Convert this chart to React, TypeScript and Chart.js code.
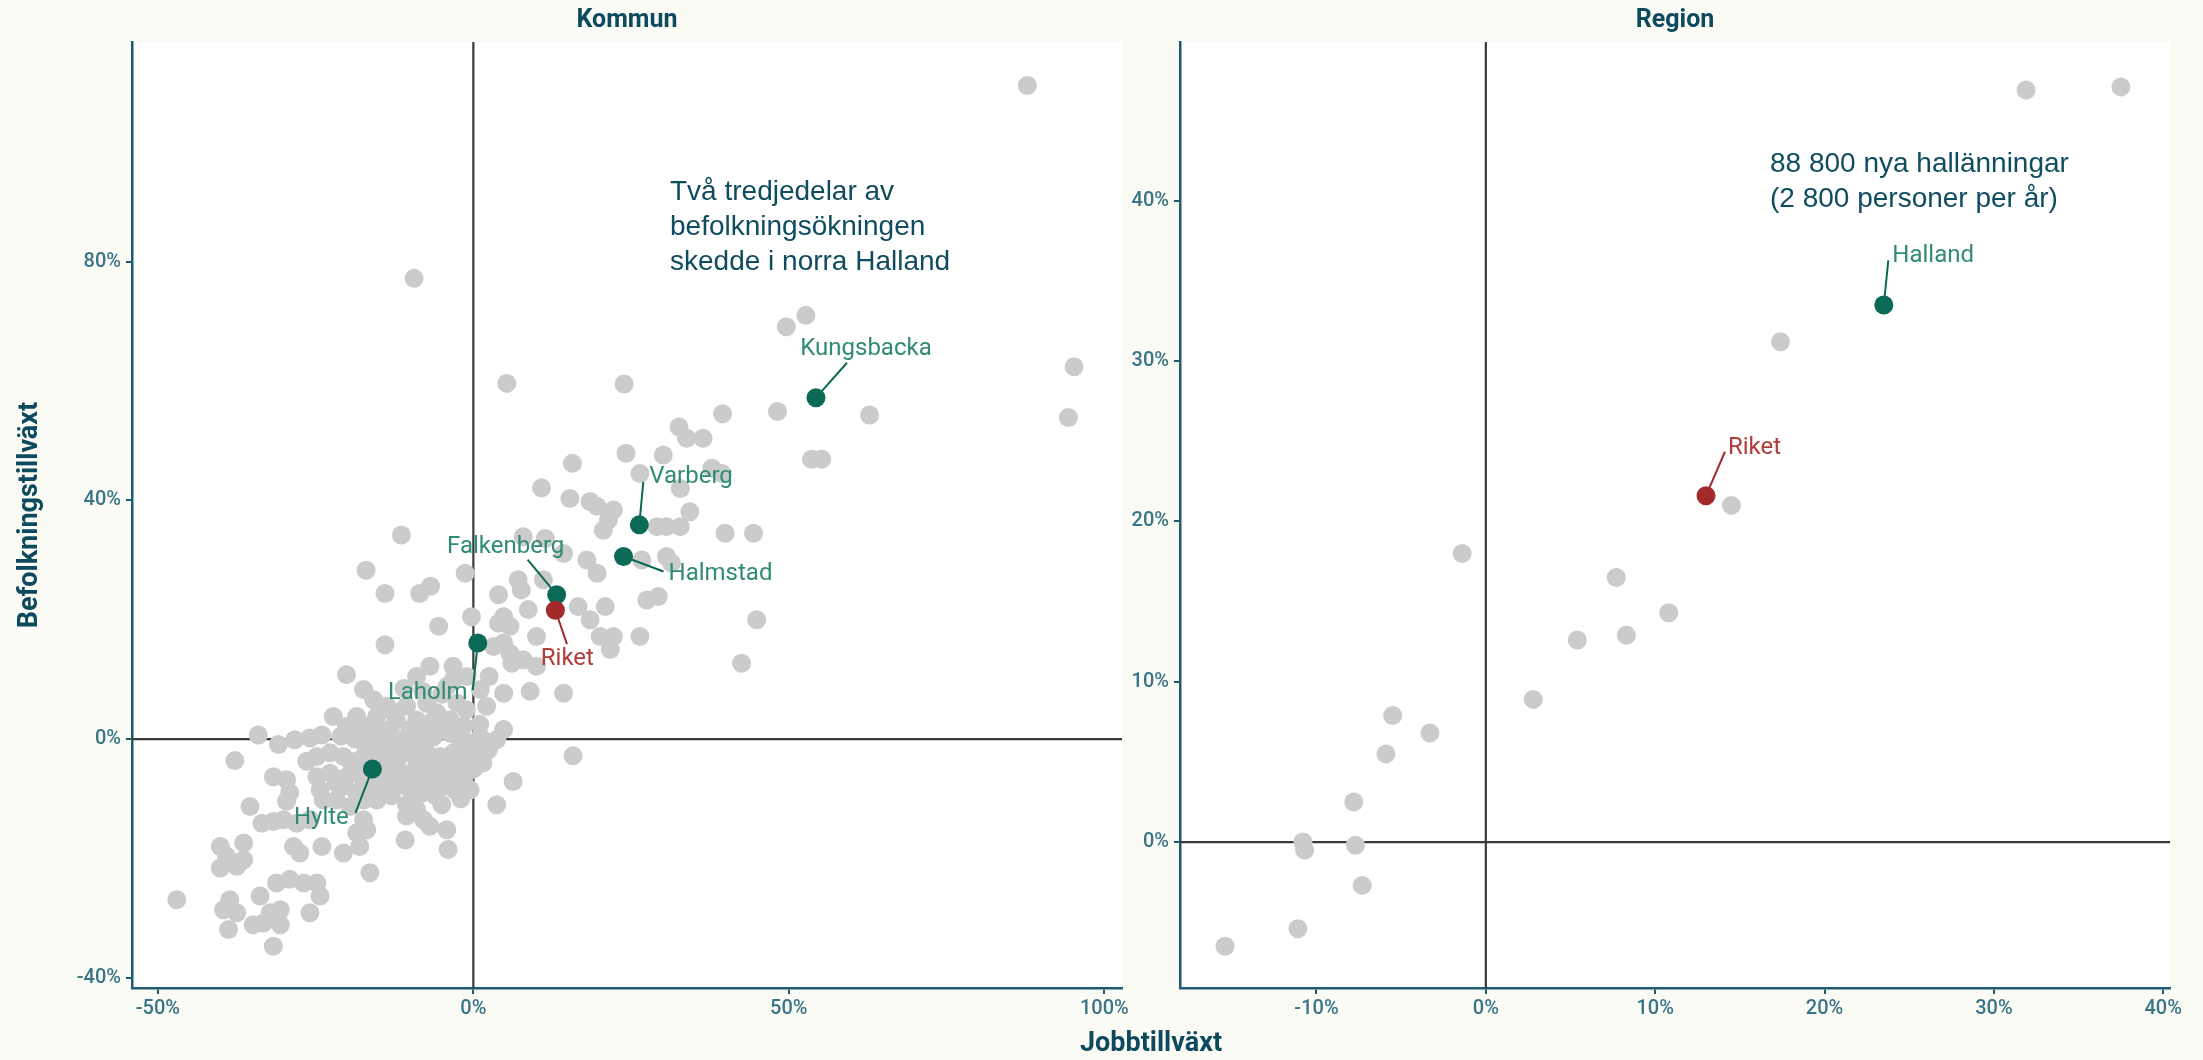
import React, { useEffect, useRef } from "react";
import { Chart, registerables } from "chart.js";

Chart.register(...registerables);

// ---------------- DATA ----------------
// Kommun panel: [Jobbtillväxt %, Befolkningstillväxt %]
const kommunPoints: [number, number][] = [
  [-34.1, 0.7], [-30.9, -0.9], [-28.3, -0.1], [-25.9, 0.2], [-24.0, 0.7], [-37.8, -3.6], [-26.4, -3.7],
  [-24.8, -2.9], [-22.7, -2.3], [-20.6, -2.9], [-19.5, -3.7], [-31.7, -6.3], [-29.6, -6.8], [-29.1, -9.0],
  [-29.6, -10.4], [-24.8, -6.3], [-22.7, -5.7], [-21.7, -7.4], [-24.3, -8.5], [-23.8, -10.2], [-21.7, -10.2],
  [-22.2, 3.8], [-18.5, 3.8], [-20.1, 2.1], [-17.4, 1.6], [-16.4, -0.1], [-14.8, -1.2], [-15.8, -2.3],
  [-13.2, -2.9], [-12.2, -1.2], [-11.1, -2.3], [-15.3, -6.3], [-14.3, -7.9], [-15.3, -10.2], [-12.2, -4.0],
  [-10.0, -5.7], [-8.5, -4.6], [-6.9, -4.0], [-5.8, -5.4], [-4.2, -6.3], [-3.7, -4.6], [-7.9, 1.6],
  [-6.3, 0.4], [-3.7, 1.0], [-1.6, -0.1], [-1.1, -2.9], [2.4, -1.8], [6.3, -7.1], [3.7, -11.0],
  [-35.4, -11.3], [-33.5, -14.1], [-31.7, -13.8], [-30.1, -13.5], [-28.0, -14.1], [-25.9, -13.5],
  [-17.4, -13.5], [-16.9, -15.2], [-18.5, -15.7], [-10.6, -11.0], [-9.0, -11.8], [-7.9, -13.5],
  [-6.9, -14.6], [-10.6, -12.9], [-10.8, -16.9], [-4.2, -15.2], [-4.0, -18.5], [-40.1, -18.0],
  [-36.4, -17.4], [-39.1, -19.6], [-36.4, -20.2], [-40.1, -21.6], [-37.5, -21.3], [-28.5, -18.0],
  [-27.5, -19.1], [-24.0, -18.0], [-20.6, -19.1], [-18.0, -18.0], [-16.4, -22.4], [-47.0, -26.9],
  [-38.6, -26.9], [-39.6, -28.6], [-37.5, -29.1], [-38.8, -31.9], [-33.8, -26.3], [-31.2, -24.1],
  [-29.1, -23.5], [-26.9, -24.1], [-24.8, -24.1], [-24.3, -26.3], [-25.9, -29.1], [-30.6, -28.6],
  [-32.2, -29.1], [-34.9, -31.1], [-33.3, -30.8], [-30.6, -31.1], [-31.7, -34.7],
  [-14.3, 1.6], [-12.7, 0.4], [-11.1, -0.1], [-9.5, -1.2], [-13.2, -4.6], [-11.1, -6.3], [-9.0, -3.5],
  [-7.4, -2.3], [-5.3, -2.9], [-3.2, -2.3], [-2.1, -4.0], [-10.0, 1.6], [-9.0, 3.2], [-12.2, 3.2],
  [-13.2, 4.9], [-15.3, 3.8], [-18.0, -3.5], [-17.4, -6.8], [-20.1, -6.3], [-20.6, -7.9], [-18.5, -9.0],
  [-17.4, -10.2], [-19.5, -11.3], [-7.9, -6.8], [-6.3, -7.4], [-4.8, -7.9], [0.5, -2.3], [1.1, 0.4],
  [-1.6, 2.1], [-3.7, 3.2], [-5.8, 4.4], [3.7, -0.1], [4.8, 1.6], [-2.6, 6.0], [-1.1, 4.9], [2.1, 5.5],
  [15.8, -2.8],
  [-16.0, 2.5], [-14.0, -3.8], [-12.0, -6.8], [-10.5, -8.0], [-8.0, -9.0], [-6.0, -9.5], [-3.0, -8.5],
  [-1.5, -6.5], [0.0, -5.0], [1.5, -4.0], [-0.5, -1.0], [-2.5, 0.5], [-4.5, 2.0], [-6.8, 2.8],
  [-8.2, -1.0], [-10.2, -2.0], [-12.5, -3.0], [-13.8, -5.5], [-15.8, -4.0], [-17.0, -1.8], [-18.8, 0.0],
  [-21.0, 0.5], [-19.0, -5.0], [-16.5, -8.5], [-13.0, -9.5], [-9.5, -10.0], [-5.0, -11.0], [-2.0, -10.0],
  [-0.5, -8.5], [1.0, 2.5], [-5.0, 7.5], [-8.0, 8.0], [-11.0, 8.5], [-1.0, 10.5], [2.5, 10.5], [-9.0, 10.5],
  [5.3, 59.6], [23.9, 59.5], [39.5, 54.5], [48.2, 54.9], [32.6, 52.3], [33.8, 50.4], [36.4, 50.4],
  [24.2, 47.9], [30.1, 47.6], [15.7, 46.2], [26.4, 44.5], [37.8, 45.4], [39.4, 44.5], [32.8, 42.0],
  [10.8, 42.1], [15.3, 40.3], [18.5, 39.8], [19.6, 39.0], [22.2, 38.4], [21.4, 36.7], [20.6, 35.0],
  [34.3, 38.1], [29.1, 35.6], [30.6, 35.6], [32.8, 35.6], [39.9, 34.5], [44.4, 34.5], [-11.4, 34.2],
  [7.9, 33.9], [11.4, 33.6], [14.3, 31.1], [18.0, 30.0], [19.6, 27.8], [26.7, 30.0], [30.6, 30.6],
  [31.4, 29.5], [-17.0, 28.3], [-14.0, 24.4], [-8.5, 24.4], [-6.8, 25.6], [-1.3, 27.8], [7.1, 26.7],
  [7.6, 25.0], [11.1, 26.7], [4.0, 24.2], [16.6, 22.2], [20.9, 22.2], [18.5, 20.0], [27.5, 23.3],
  [29.3, 23.9], [44.9, 20.0], [8.7, 21.7], [10.0, 17.2], [4.8, 20.5], [4.0, 19.4], [5.8, 18.9],
  [-0.3, 20.5], [-5.5, 18.9], [-14.0, 15.8], [20.1, 17.2], [22.2, 17.2], [21.7, 15.0], [26.4, 17.2],
  [42.5, 12.7], [3.2, 15.5], [4.8, 16.1], [5.8, 14.4], [7.9, 13.3], [10.0, 12.2], [6.1, 12.7],
  [-20.1, 10.8], [-17.4, 8.3], [-6.9, 12.2], [-3.2, 12.2], [-3.2, 9.9], [-4.2, 8.8], [1.1, 8.3],
  [4.8, 7.7], [9.0, 8.0], [14.3, 7.7], [-15.8, 6.6], [-13.7, 5.5], [-10.6, 5.5], [-7.4, 6.0],
  [87.8, 109.5], [52.7, 71.0], [49.6, 69.1], [62.8, 54.3], [95.2, 62.4], [94.3, 53.9], [53.6, 46.9],
  [55.2, 46.9], [-9.4, 77.2],
];

const kommunNames = ["Kungsbacka", "Varberg", "Halmstad", "Falkenberg", "Laholm", "Hylte"];
const kommunJobb = [54.3, 26.3, 23.8, 13.2, 0.7, -16.0];
const kommunBefolkning = [57.2, 35.9, 30.6, 24.2, 16.1, -5.0];

const riketName = "Riket";
const riketJobb = 13.0;
const riketBefolkning = 21.6;

// Region panel
const regionPoints: [number, number][] = [
  [31.9, 46.9], [37.5, 47.1], [17.4, 31.2], [14.5, 21.0], [-1.4, 18.0], [7.7, 16.5], [10.8, 14.3],
  [5.4, 12.6], [8.3, 12.9], [2.8, 8.9], [-5.5, 7.9], [-3.3, 6.8], [-5.9, 5.5], [-7.8, 2.5],
  [-10.8, 0.0], [-10.7, -0.5], [-7.7, -0.2], [-7.3, -2.7], [-11.1, -5.4], [-15.4, -6.5],
];
const regionNames = ["Halland"];
const regionJobb = [23.5];
const regionBefolkning = [33.5];

const kommunXTicks = [-50, 0, 50, 100];
const kommunYTicks = [-40, 0, 40, 80];
const regionXTicks = [-10, 0, 10, 20, 30, 40];
const regionYTicks = [0, 10, 20, 30, 40];

const facetTitles = ["Kommun", "Region"];
const xTitle = "Jobbtillväxt";
const yTitle = "Befolkningstillväxt";
const kommunNote = ["Två tredjedelar av", "befolkningsökningen", "skedde i norra Halland"];
const regionNote = ["88 800 nya hallänningar", "(2 800 personer per år)"];

// ---------------- STYLE ----------------
const W = 2203;
const H = 1060;
const BG = "#fbfbf6";
const TITLE = "#0e4a5e";
const TICK = "#3a7587";
const AXIS = "#1e5b70";
const GRAY = "#cbcbcb";
const GREEN = "#0b6a56";
const GREEN_TEXT = "#2f8b74";
const RED = "#a3292b";
const RED_TEXT = "#b23a3a";
const ANNOT = "#0f4c60";
const R = 9.5;

type LabelStyle = { dx: number; dy: number; lx: number; ly: number; align: CanvasTextAlign };

const kommunLabelStyle: Record<string, LabelStyle> = {
  Kungsbacka: { dx: 50, dy: -49, lx: 31, ly: -35, align: "center" },
  Varberg: { dx: 10, dy: -48, lx: 4, ly: -43, align: "left" },
  Halmstad: { dx: 45, dy: 18, lx: 40, ly: 15, align: "left" },
  Falkenberg: { dx: -51, dy: -48, lx: -29, ly: -35, align: "center" },
  Laholm: { dx: -50, dy: 50, lx: -5, ly: 47, align: "center" },
  Hylte: { dx: -51, dy: 49, lx: -17, ly: 44, align: "center" },
  Riket: { dx: 12, dy: 49, lx: 11.6, ly: 34, align: "center" },
};
const regionLabelStyle: Record<string, LabelStyle> = {
  Halland: { dx: 8.5, dy: -49, lx: 4.5, ly: -44.5, align: "left" },
  Riket: { dx: 22, dy: -48, lx: 19, ly: -44, align: "left" },
};

type PanelCfg = {
  area: { left: number; right: number; top: number; bottom: number };
  yAxisWidth: number;
  xRange: [number, number];
  yRange: [number, number];
  xTicks: number[];
  yTicks: number[];
  gray: [number, number][];
  hiNames: string[];
  hiX: number[];
  hiY: number[];
  labelStyle: Record<string, LabelStyle>;
  facet: string;
  note: string[];
  noteX: number;
  noteY: number;
  extraDraw?: (ctx: CanvasRenderingContext2D) => void;
};

function makePanel(canvas: HTMLCanvasElement, cfg: PanelCfg) {
  const labelled = [
    ...cfg.hiNames.map((n, i) => ({ name: n, x: cfg.hiX[i], y: cfg.hiY[i], dot: GREEN, text: GREEN_TEXT })),
    { name: riketName, x: riketJobb, y: riketBefolkning, dot: RED, text: RED_TEXT },
  ];

  const panelPlugin = {
    id: "panelDecor",
    beforeDraw(chart: any) {
      const { ctx, chartArea: a } = chart;
      ctx.save();
      ctx.fillStyle = "#ffffff";
      ctx.fillRect(a.left, a.top, a.right - a.left, a.bottom - a.top);
      ctx.restore();
    },
    beforeDatasetsDraw(chart: any) {
      const { ctx, chartArea: a, scales } = chart;
      const px = scales.x.getPixelForValue(0);
      const py = scales.y.getPixelForValue(0);
      ctx.save();
      ctx.strokeStyle = "#3a3a3a";
      ctx.lineWidth = 2.2;
      ctx.beginPath();
      ctx.moveTo(px, a.top);
      ctx.lineTo(px, a.bottom);
      ctx.moveTo(a.left, py);
      ctx.lineTo(a.right, py);
      ctx.stroke();
      ctx.restore();
    },
    afterDatasetsDraw(chart: any) {
      const { ctx, scales } = chart;
      ctx.save();
      ctx.font = "24px Roboto";
      ctx.textBaseline = "middle";
      labelled.forEach((p) => {
        const st = cfg.labelStyle[p.name];
        if (!st) return;
        const px = scales.x.getPixelForValue(p.x);
        const py = scales.y.getPixelForValue(p.y);
        const len = Math.hypot(st.lx, st.ly);
        const sx = px + (st.lx / len) * (R - 1);
        const sy = py + (st.ly / len) * (R - 1);
        ctx.strokeStyle = p.dot;
        ctx.lineWidth = 2;
        ctx.beginPath();
        ctx.moveTo(sx, sy);
        ctx.lineTo(px + st.lx, py + st.ly);
        ctx.stroke();
        ctx.fillStyle = p.text;
        ctx.textAlign = st.align;
        ctx.fillText(p.name, px + st.dx, py + st.dy);
      });
      ctx.restore();
    },
    afterDraw(chart: any) {
      const { ctx, chartArea: a } = chart;
      ctx.save();
      ctx.fillStyle = TITLE;
      ctx.font = "bold 25px Roboto";
      ctx.textAlign = "center";
      ctx.textBaseline = "middle";
      ctx.fillText(cfg.facet, (a.left + a.right) / 2, 21);
      ctx.fillStyle = ANNOT;
      ctx.font = '28px "Liberation Sans", Arial, sans-serif';
      ctx.textAlign = "left";
      ctx.textBaseline = "alphabetic";
      cfg.note.forEach((line, i) => ctx.fillText(line, cfg.noteX, cfg.noteY + i * 35));
      if (cfg.extraDraw) cfg.extraDraw(ctx);
      ctx.restore();
    },
  };

  const tickFont = { family: "Roboto", size: 20, weight: "500" };

  return new Chart(canvas, {
    type: "scatter",
    data: {
      datasets: [
        {
          data: labelled.filter((p) => p.dot === RED).map((p) => ({ x: p.x, y: p.y })),
          backgroundColor: RED,
          pointRadius: R,
          borderWidth: 0,
        },
        {
          data: labelled.filter((p) => p.dot === GREEN).map((p) => ({ x: p.x, y: p.y })),
          backgroundColor: GREEN,
          pointRadius: R,
          borderWidth: 0,
        },
        {
          data: cfg.gray.map(([x, y]) => ({ x, y })),
          backgroundColor: GRAY,
          pointRadius: R,
          borderWidth: 0,
        },
      ],
    },
    options: {
      animation: false,
      responsive: false,
      maintainAspectRatio: false,
      events: [],
      layout: {
        padding: {
          left: cfg.area.left - cfg.yAxisWidth,
          right: W - cfg.area.right,
          top: cfg.area.top,
          bottom: 0,
        },
      },
      plugins: { legend: { display: false }, tooltip: { enabled: false }, title: { display: false } },
      scales: {
        x: {
          type: "linear",
          min: cfg.xRange[0],
          max: cfg.xRange[1],
          afterBuildTicks: (s: any) => {
            s.ticks = cfg.xTicks.map((v) => ({ value: v }));
          },
          afterFit: (s: any) => {
            s.height = H - cfg.area.bottom;
          },
          ticks: {
            callback: (v: any) => `${v}%`,
            color: TICK,
            font: tickFont,
            padding: 3,
            autoSkip: false,
            maxRotation: 0,
          },
          grid: { display: true, drawOnChartArea: false, drawTicks: true, tickLength: 6, color: AXIS, lineWidth: 2 },
          border: { display: true, color: AXIS, width: 2.5 },
        },
        y: {
          type: "linear",
          min: cfg.yRange[0],
          max: cfg.yRange[1],
          afterBuildTicks: (s: any) => {
            s.ticks = cfg.yTicks.map((v) => ({ value: v }));
          },
          afterFit: (s: any) => {
            s.width = cfg.yAxisWidth;
          },
          ticks: {
            callback: (v: any) => `${v}%`,
            color: TICK,
            font: tickFont,
            padding: 5,
            autoSkip: false,
          },
          grid: { display: true, drawOnChartArea: false, drawTicks: true, tickLength: 6, color: AXIS, lineWidth: 2 },
          border: { display: true, color: AXIS, width: 2.5 },
        },
      },
    } as any,
    plugins: [panelPlugin],
  });
}

export default function App() {
  const leftRef = useRef<HTMLCanvasElement>(null);
  const rightRef = useRef<HTMLCanvasElement>(null);

  useEffect(() => {
    const left = makePanel(leftRef.current!, {
      area: { left: 132, right: 1122, top: 42, bottom: 988 },
      yAxisWidth: 132,
      xRange: [-54.1, 102.8],
      yRange: [-41.7, 116.8],
      xTicks: kommunXTicks,
      yTicks: kommunYTicks,
      gray: kommunPoints,
      hiNames: kommunNames,
      hiX: kommunJobb,
      hiY: kommunBefolkning,
      labelStyle: kommunLabelStyle,
      facet: facetTitles[0],
      note: kommunNote,
      noteX: 670,
      noteY: 200,
      extraDraw: (ctx) => {
        ctx.save();
        ctx.fillStyle = TITLE;
        ctx.font = "bold 27px Roboto";
        ctx.textAlign = "center";
        ctx.textBaseline = "middle";
        ctx.translate(30, 515);
        ctx.rotate(-Math.PI / 2);
        ctx.fillText(yTitle, 0, 0);
        ctx.restore();
      },
    });
    const right = makePanel(rightRef.current!, {
      area: { left: 1180, right: 2170, top: 42, bottom: 988 },
      yAxisWidth: 60,
      xRange: [-18.06, 40.4],
      yRange: [-9.1, 49.9],
      xTicks: regionXTicks,
      yTicks: regionYTicks,
      gray: regionPoints,
      hiNames: regionNames,
      hiX: regionJobb,
      hiY: regionBefolkning,
      labelStyle: regionLabelStyle,
      facet: facetTitles[1],
      note: regionNote,
      noteX: 1770,
      noteY: 172,
      extraDraw: (ctx) => {
        ctx.save();
        ctx.fillStyle = TITLE;
        ctx.font = "bold 27px Roboto";
        ctx.textAlign = "center";
        ctx.textBaseline = "middle";
        ctx.fillText(xTitle, 1151, 1044);
        ctx.restore();
      },
    });
    return () => {
      left.destroy();
      right.destroy();
    };
  }, []);

  const canvasStyle: React.CSSProperties = { position: "absolute", left: 0, top: 0, width: W, height: H };
  return (
    <div style={{ position: "fixed", left: 0, top: 0, width: W, height: H, background: BG }}>
      <canvas ref={leftRef} width={W} height={H} style={canvasStyle} />
      <canvas ref={rightRef} width={W} height={H} style={canvasStyle} />
    </div>
  );
}
